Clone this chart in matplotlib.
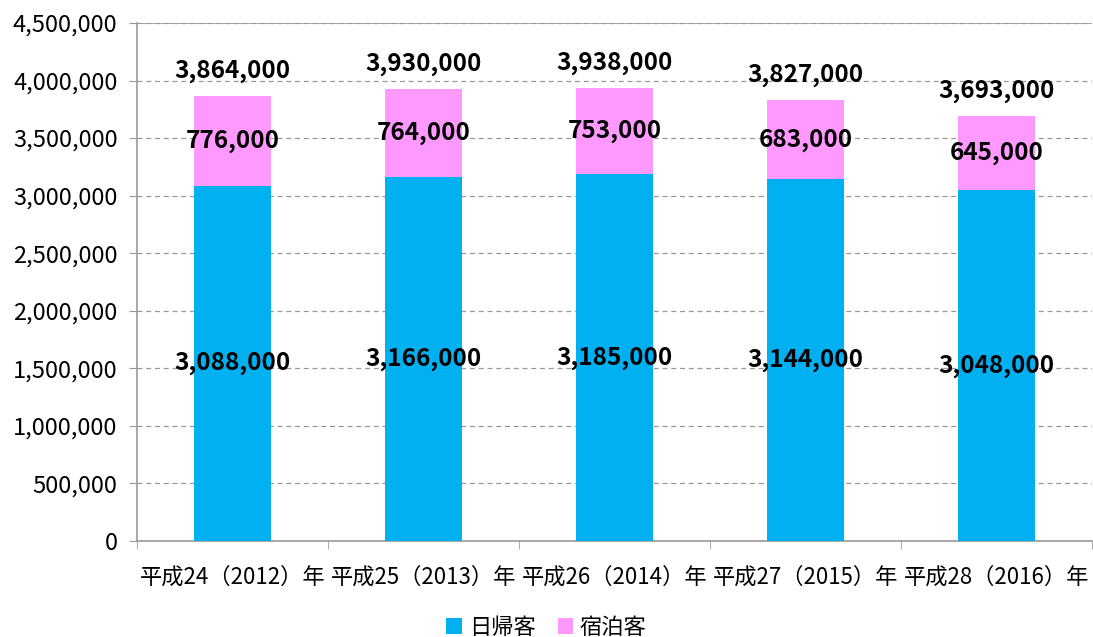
import matplotlib
matplotlib.use('Agg')
import matplotlib.pyplot as plt
import numpy as np

plt.rcParams['font.family'] = ['Noto Sans CJK JP', 'DejaVu Sans']

# Data
years = ['平成24（2012）年', '平成25（2013）年', '平成26（2014）年', '平成27（2015）年', '平成28（2016）年']
day_trip = [3088000, 3166000, 3185000, 3144000, 3048000]
overnight = [776000, 764000, 753000, 683000, 645000]
totals = [3864000, 3930000, 3938000, 3827000, 3693000]

blue = '#00B0F0'
pink = '#FF99FF'

fig = plt.figure(figsize=(10.93, 6.37), dpi=100)
ax = fig.add_axes([0.1253, 0.1507, 0.8737, 0.8132])

x = np.arange(len(years))
b1 = ax.bar(x, day_trip, width=0.4, color=blue, label='日帰客', zorder=3)
b2 = ax.bar(x, overnight, width=0.4, bottom=day_trip, color=pink, label='宿泊客', zorder=3)

# labels inside bars and totals on top
for i in range(len(years)):
    ax.text(x[i], day_trip[i] / 2, f'{day_trip[i]:,}', ha='center', va='center',
            fontsize=17.5, fontweight='bold', zorder=4)
    ax.text(x[i], day_trip[i] + overnight[i] / 2, f'{overnight[i]:,}', ha='center', va='center',
            fontsize=17.5, fontweight='bold', zorder=4)
    ax.annotate(f'{totals[i]:,}', (x[i], totals[i]), xytext=(0, 18), textcoords='offset points',
                ha='center', va='center', fontsize=17.5, fontweight='bold', zorder=4)

ax.set_xlim(-0.5, len(years) - 0.5)
ax.set_ylim(0, 4500000)
ax.set_yticks(np.arange(0, 4500001, 500000))
ax.yaxis.set_major_formatter(matplotlib.ticker.FuncFormatter(lambda v, p: f'{int(v):,}'))
ax.grid(axis='y', color='#999999', linestyle=(0, (4, 3)), linewidth=0.9, zorder=0)
ax.axhline(4500000, color='#999999', linewidth=1.2, zorder=1)

ax.set_xticks(x)
ax.set_xticklabels(years)
ax.set_xticks(np.arange(-0.5, len(years)), minor=True)
ax.tick_params(axis='x', which='major', length=0, labelsize=16, pad=18)
ax.tick_params(axis='x', which='minor', length=6, color='#999999')
ax.tick_params(axis='y', labelsize=17, length=6, color='#999999', pad=8)

for s in ['top', 'right']:
    ax.spines[s].set_visible(False)
for s in ['left', 'bottom']:
    ax.spines[s].set_color('#999999')
    ax.spines[s].set_linewidth(1.2)

fig.legend(handles=[b1, b2], loc='center', bbox_to_anchor=(0.5, 0.015), ncol=2, frameon=False,
           fontsize=16, handlelength=0.7, handleheight=0.7, handletextpad=0.3, columnspacing=1.0)

fig.savefig('out.png', dpi=100)
